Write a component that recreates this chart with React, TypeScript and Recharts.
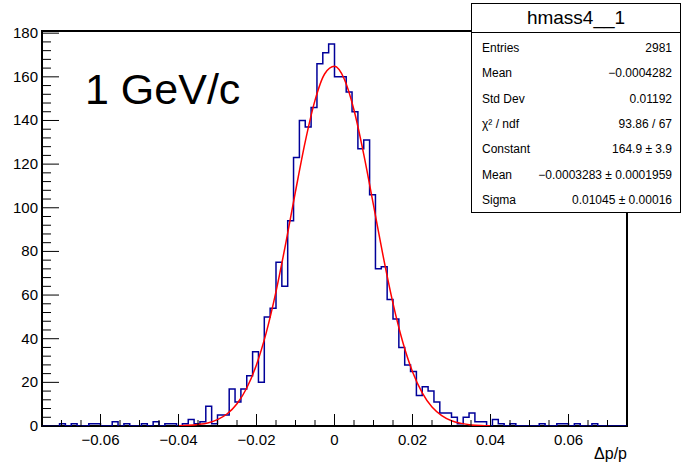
import { LineChart, Line, XAxis, YAxis, ReferenceArea } from 'recharts';

// histogram hmass4__1: 100 bins from -0.075 to 0.075
const binLow = -0.075;
const binWidth = 0.0015;
const counts = [
  0, 0, 0, 1, 0, 1, 0, 0, 1, 1,
  0, 0, 2, 0, 1, 0, 0, 1, 0, 2,
  0, 1, 1, 0, 1, 3, 1, 2, 9, 1,
  5, 5, 17, 11, 17, 23, 34, 20, 50, 54,
  75, 64, 94, 123, 140, 137, 146, 166, 171, 175,
  160, 160, 153, 144, 127, 131, 106, 72, 73, 58,
  49, 36, 28, 25, 14, 18, 16, 11, 6, 6,
  4, 1, 4, 6, 2, 2, 0, 3, 1, 0,
  1, 0, 0, 0, 0, 1, 0, 0, 1, 1,
  0, 1, 0, 0, 1, 0, 0, 0, 0, 0
];

// gaus fit
const fitX = [
  -0.04, -0.0375, -0.035, -0.0325, -0.03, -0.0275, -0.025, -0.0225, -0.02, -0.0175, -0.015,
  -0.0125, -0.01, -0.0075, -0.005, -0.0025, 0, 0.0025, 0.005, 0.0075, 0.01, 0.0125,
  0.015, 0.0175, 0.02, 0.0225, 0.025, 0.0275, 0.03, 0.0325, 0.035, 0.0375, 0.04
];
const fitY = [
  0.1, 0.3, 0.7, 1.4, 2.9, 5.6, 10.2, 17.4, 28.1, 42.8, 61.6,
  83.7, 107.5, 130.3, 149.2, 161.4, 164.8, 159.0, 144.8, 124.5, 101.2, 77.6,
  56.2, 38.5, 24.9, 15.2, 8.7, 4.8, 2.4, 1.2, 0.5, 0.2, 0.1
];

const xMajor = [-0.06, -0.04, -0.02, 0, 0.02, 0.04, 0.06];
const xLabels = ['\u22120.06', '\u22120.04', '\u22120.02', '0', '0.02', '0.04', '0.06'];

const statsRows = [
  ['Entries', '2981'],
  ['Mean', '\u22120.0004282'],
  ['Std Dev', '0.01192'],
  ['\u03c7\u00b2 / ndf', '93.86 / 67'],
  ['Constant', '164.9 \u00b1 3.9'],
  ['Mean', '\u22120.0003283 \u00b1 0.0001959'],
  ['Sigma', '0.01045 \u00b1 0.00016']
];

const W = 683;
const H = 465;
const LEFT = 42;
const TOP = 31;
const RIGHT = 627;
const BOTTOM = 426;
const FONT = '"Liberation Sans", Arial, Helvetica, sans-serif';

const histData = counts.map((c, i) => ({ x: binLow + i * binWidth, y: c }));
histData.push({ x: binLow + counts.length * binWidth, y: counts[counts.length - 1] });
const fitData = fitX.map((x, i) => ({ x, y: fitY[i] }));

const xTicks: number[] = [];
for (let i = 0; i <= 30; i++) xTicks.push(Math.round((-0.075 + i * 0.005) * 1000) / 1000);
const yTicks: number[] = [];
for (let v = 0; v <= 180; v += 4) yTicks.push(v);

function XTick(props: any) {
  const v = props.payload.value;
  const x = props.x;
  const idx = xMajor.findIndex((m) => Math.abs(m - v) < 1e-9);
  const major = idx >= 0;
  return (
    <g>
      <line x1={x} x2={x} y1={BOTTOM} y2={BOTTOM - (major ? 12 : 6)} stroke="#000" strokeWidth={1} />
      {major && (
        <text x={x} y={BOTTOM + 19} textAnchor="middle" fontSize={15} fontFamily={FONT} fill="#000">
          {xLabels[idx]}
        </text>
      )}
    </g>
  );
}

function YTick(props: any) {
  const v = props.payload.value;
  const y = props.y;
  const major = v % 20 === 0;
  return (
    <g>
      <line x1={LEFT} x2={LEFT + (major ? 17 : 9)} y1={y} y2={y} stroke="#000" strokeWidth={1} />
      {major && (
        <text x={LEFT - 4} y={y + 5} textAnchor="end" fontSize={15} fontFamily={FONT} fill="#000">
          {v}
        </text>
      )}
    </g>
  );
}

export default function App() {
  return (
    <div style={{ position: 'absolute', left: 0, top: 0, width: W, height: H, background: '#fff', fontFamily: FONT }}>
      <LineChart width={W} height={H} margin={{ top: TOP, right: W - RIGHT, left: 0, bottom: 0 }}>
        <XAxis
          type="number"
          dataKey="x"
          domain={[-0.075, 0.075]}
          allowDataOverflow
          ticks={xTicks}
          interval={0}
          tick={<XTick />}
          tickLine={false}
          axisLine={false}
          height={H - BOTTOM}
        />
        <YAxis
          type="number"
          dataKey="y"
          domain={[0, 181]}
          allowDataOverflow
          ticks={yTicks}
          interval={0}
          tick={<YTick />}
          tickLine={false}
          axisLine={false}
          width={LEFT}
        />
        <ReferenceArea x1={-0.075} x2={0.075} y1={0} y2={181} fill="none" stroke="#000" strokeWidth={2} />
        <Line
          data={histData}
          dataKey="y"
          type="stepAfter"
          stroke="#000099"
          strokeWidth={1.5}
          dot={false}
          isAnimationActive={false}
        />
        <Line
          data={fitData}
          dataKey="y"
          type="monotone"
          stroke="#ff0000"
          strokeWidth={1.5}
          dot={false}
          isAnimationActive={false}
        />
      </LineChart>

      <div style={{ position: 'absolute', left: 85, top: 64, fontSize: 43, lineHeight: '50px', color: '#000' }}>1 GeV/c</div>
      <div style={{ position: 'absolute', right: W - RIGHT, top: 444, fontSize: 16, lineHeight: '20px', color: '#000' }}>
        Δp/p
      </div>

      <div
        style={{
          position: 'absolute',
          left: 471,
          top: 3,
          width: 210,
          height: 210,
          background: '#fff',
          border: '1px solid #000',
          boxSizing: 'border-box'
        }}
      >
        <div
          style={{
            height: 28,
            lineHeight: '28px',
            textAlign: 'center',
            fontSize: 19,
            borderBottom: '1px solid #000'
          }}
        >
          hmass4__1
        </div>
        {statsRows.map((r, i) => (
          <div
            key={i}
            style={{
              position: 'absolute',
              left: 10,
              right: 8,
              top: 34 + i * 25.3,
              height: 20,
              lineHeight: '20px',
              fontSize: 12,
              display: 'flex',
              justifyContent: 'space-between'
            }}
          >
            <span>{r[0]}</span>
            <span>{r[1]}</span>
          </div>
        ))}
      </div>
    </div>
  );
}
